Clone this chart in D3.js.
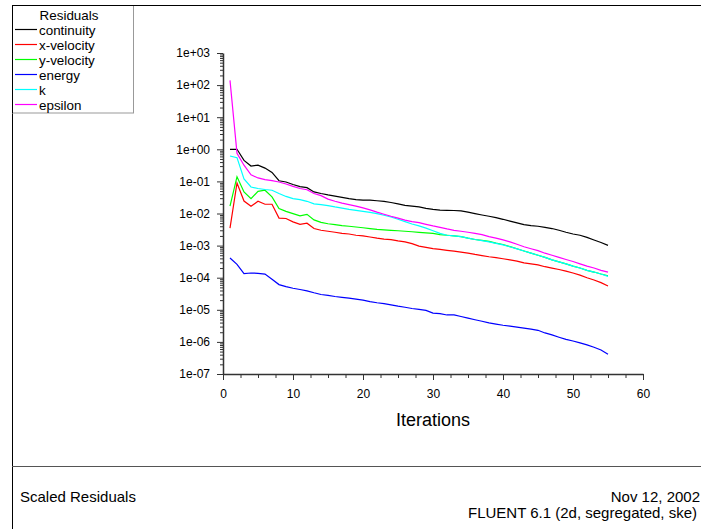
<!DOCTYPE html>
<html>
<head>
  <meta charset="utf-8">
  <title>Scaled Residuals</title>
  <script src="https://d3js.org/d3.v7.min.js"></script>
  <style>
    body, html {
      margin: 0;
      padding: 0;
      background: #fff;
      overflow: hidden;
    }
    svg {
      display: block;
      font-family: "Liberation Sans", Arial, sans-serif;
    }
  </style>
</head>
<body>
  <svg id="chart" width="701" height="529"></svg>

  <script>
    // iteration numbers (x values)
    var iterations = d3.range(1, 56);

    // residual values, one per iteration
    var continuity = [1.0, 1.0, 0.45, 0.30, 0.32, 0.26, 0.19, 0.105, 0.096, 0.08,
      0.069, 0.064, 0.047, 0.042, 0.038, 0.035, 0.032, 0.029, 0.027, 0.026,
      0.026, 0.025, 0.024, 0.022, 0.020, 0.018, 0.017, 0.016, 0.0145, 0.0135,
      0.0128, 0.0126, 0.0124, 0.012, 0.011, 0.0099, 0.009, 0.0082, 0.0074, 0.0066,
      0.0058, 0.0051, 0.0045, 0.0042, 0.0040, 0.0037, 0.0034, 0.0030, 0.0026, 0.0023,
      0.0021, 0.0018, 0.0015, 0.00125, 0.00102];

    var xVelocity = [0.0035, 0.089, 0.0245, 0.0167, 0.024, 0.0194, 0.0194, 0.0072, 0.0070, 0.0055,
      0.0046, 0.005, 0.0034, 0.0030, 0.0028, 0.0026, 0.0024, 0.0023, 0.0021, 0.0020,
      0.00185, 0.0017, 0.0016, 0.00153, 0.0014, 0.0013, 0.00115, 0.00096, 0.00088, 0.00081,
      0.00076, 0.00071, 0.00067, 0.00063, 0.00058, 0.00053, 0.00049, 0.00045, 0.00042, 0.00039,
      0.00036, 0.00033, 0.00029, 0.00027, 0.00025, 0.00022, 0.0002, 0.00018, 0.00016, 0.00014,
      0.00012, 0.0001, 0.000085, 0.00007, 0.000055];

    var yVelocity = [0.017, 0.14, 0.047, 0.029, 0.049, 0.053, 0.033, 0.0142, 0.0117, 0.0099,
      0.0084, 0.0094, 0.0063, 0.0053, 0.0048, 0.0045, 0.0042, 0.0040, 0.0038, 0.0036,
      0.0034, 0.0032, 0.0031, 0.0030, 0.0029, 0.0028, 0.0027, 0.0026, 0.0025, 0.0024,
      0.0022, 0.0021, 0.0020, 0.0019, 0.0017, 0.00155, 0.00145, 0.00136, 0.0012, 0.00108,
      0.00093, 0.0008, 0.00068, 0.00058, 0.0005, 0.00043, 0.00036, 0.00031, 0.00027, 0.00023,
      0.0002, 0.00017, 0.00015, 0.00013, 0.000115];

    var energy = [4.1e-4, 2.6e-4, 1.34e-4, 1.4e-4, 1.37e-4, 1.3e-4, 8.9e-5, 6.1e-5, 5.3e-5, 4.7e-5,
      4.3e-5, 3.9e-5, 3.4e-5, 3.0e-5, 2.8e-5, 2.6e-5, 2.45e-5, 2.3e-5, 2.15e-5, 2.0e-5,
      1.8e-5, 1.66e-5, 1.55e-5, 1.43e-5, 1.3e-5, 1.2e-5, 1.1e-5, 1.03e-5, 9.6e-6, 7.9e-6,
      7.6e-6, 6.9e-6, 6.9e-6, 6.2e-6, 5.5e-6, 4.9e-6, 4.4e-6, 3.9e-6, 3.6e-6, 3.3e-6,
      3.1e-6, 2.9e-6, 2.7e-6, 2.5e-6, 2.3e-6, 1.9e-6, 1.65e-6, 1.4e-6, 1.2e-6, 1.07e-6,
      9.3e-7, 8.1e-7, 6.8e-7, 5.6e-7, 4.1e-7];

    var kRes = [0.62, 0.55, 0.12, 0.067, 0.06, 0.056, 0.053, 0.042, 0.034, 0.029,
      0.027, 0.024, 0.020, 0.019, 0.0175, 0.016, 0.0148, 0.0135, 0.0125, 0.0117,
      0.0108, 0.0099, 0.0088, 0.0078, 0.0066, 0.0056, 0.0047, 0.0041, 0.0035, 0.0029,
      0.0024, 0.0021, 0.0020, 0.0019, 0.0017, 0.00155, 0.00143, 0.0013, 0.00118, 0.00105,
      0.00092, 0.00079, 0.00068, 0.00058, 0.0005, 0.00043, 0.00036, 0.00031, 0.00027, 0.00023,
      0.0002, 0.00017, 0.00015, 0.00013, 0.00011];

    var epsilon = [140, 0.75, 0.32, 0.16, 0.128, 0.114, 0.106, 0.096, 0.083, 0.07,
      0.06, 0.055, 0.042, 0.036, 0.028, 0.024, 0.021, 0.019, 0.017, 0.015,
      0.013, 0.011, 0.0095, 0.0082, 0.0072, 0.0062, 0.0056, 0.0052, 0.0046, 0.0041,
      0.0037, 0.0033, 0.003, 0.0028, 0.0026, 0.0024, 0.0022, 0.0019, 0.0017, 0.0015,
      0.0013, 0.0011, 0.00092, 0.0008, 0.0007, 0.00058, 0.0005, 0.00043, 0.00037, 0.00032,
      0.00027, 0.00023, 0.0002, 0.00017, 0.00015];

    var seriesNames = ["continuity", "x-velocity", "y-velocity", "energy", "k", "epsilon"];
    var seriesColors = ["#000000", "#ff0000", "#00ff00", "#0000ff", "#00ffff", "#ff00ff"];
    var seriesValues = [continuity, xVelocity, yVelocity, energy, kRes, epsilon];

    var yTickValues = [1e3, 1e2, 1e1, 1e0, 1e-1, 1e-2, 1e-3, 1e-4, 1e-5, 1e-6, 1e-7];
    var yTickLabels = ["1e+03", "1e+02", "1e+01", "1e+00", "1e-01", "1e-02", "1e-03",
      "1e-04", "1e-05", "1e-06", "1e-07"];
    var xTickValues = [0, 10, 20, 30, 40, 50, 60];

    var svg = d3.select("#chart");

    var xScale = d3.scaleLinear().domain([0, 60]).range([223, 643]);
    var yScale = d3.scaleLog().domain([1e-7, 1e3]).range([374, 53]);

    // outer frame and divider
    svg.append("line").attr("x1", 12.5).attr("x2", 12.5).attr("y1", 5).attr("y2", 529)
      .attr("stroke", "#000");
    svg.append("line").attr("x1", 12).attr("x2", 701).attr("y1", 5.5).attr("y2", 5.5)
      .attr("stroke", "#000");
    svg.append("line").attr("x1", 12).attr("x2", 701).attr("y1", 466.5).attr("y2", 466.5)
      .attr("stroke", "#555");

    // minor ticks for the log axis (2..9 in each decade)
    var minorY = [];
    yTickValues.slice(1).forEach(function(d) {
      for (var m = 2; m <= 9; m++) minorY.push(d * m);
    });

    svg.append("g")
      .attr("transform", "translate(223,0)")
      .call(d3.axisLeft(yScale).tickValues(minorY).tickSize(3).tickFormat(""))
      .call(function(g) { g.select(".domain").remove(); })
      .selectAll("line").attr("stroke", "#333");

    var yAxis = svg.append("g")
      .attr("transform", "translate(223,0)")
      .call(d3.axisLeft(yScale)
        .tickValues(yTickValues)
        .tickSize(6)
        .tickSizeOuter(0)
        .tickPadding(7)
        .tickFormat(function(d, i) { return yTickLabels[i]; }));
    yAxis.select(".domain").attr("stroke", "#333").attr("stroke-width", 1.5);
    yAxis.selectAll("line").attr("stroke", "#333");
    yAxis.selectAll("text").style("font-size", "12px").attr("fill", "#000");

    // x axis minor ticks every 2.5
    svg.append("g")
      .attr("transform", "translate(0,374)")
      .call(d3.axisBottom(xScale).tickValues(d3.range(0, 60.1, 2.5)).tickSize(4).tickFormat(""))
      .call(function(g) { g.select(".domain").remove(); })
      .selectAll("line").attr("stroke", "#333");

    var xAxis = svg.append("g")
      .attr("transform", "translate(0,374)")
      .call(d3.axisBottom(xScale)
        .tickValues(xTickValues)
        .tickSize(6)
        .tickSizeOuter(0)
        .tickPadding(9)
        .tickFormat(d3.format("d")));
    xAxis.select(".domain").attr("stroke", "#333").attr("stroke-width", 1.5);
    xAxis.selectAll("line").attr("stroke", "#333");
    xAxis.selectAll("text").style("font-size", "12px").attr("fill", "#000");

    svg.append("text")
      .attr("x", xScale(30))
      .attr("y", 426)
      .attr("text-anchor", "middle")
      .style("font-size", "18px")
      .text("Iterations");

    // residual lines
    var line = d3.line()
      .x(function(d) { return xScale(d[0]); })
      .y(function(d) { return yScale(d[1]); });

    seriesValues.forEach(function(vals, s) {
      svg.append("path")
        .datum(iterations.map(function(it, i) { return [it, vals[i]]; }))
        .attr("fill", "none")
        .attr("stroke", seriesColors[s])
        .attr("stroke-width", 1.2)
        .attr("d", line);
    });

    // legend
    var legend = svg.append("g");
    legend.append("rect")
      .attr("x", 12.5).attr("y", 5.5)
      .attr("width", 121).attr("height", 107.5)
      .attr("fill", "#fff")
      .attr("stroke", "#999");
    legend.append("line").attr("x1", 12.5).attr("x2", 12.5).attr("y1", 5).attr("y2", 113)
      .attr("stroke", "#000");
    legend.append("line").attr("x1", 12).attr("x2", 134).attr("y1", 5.5).attr("y2", 5.5)
      .attr("stroke", "#000");
    legend.append("text")
      .attr("x", 69).attr("y", 19.5)
      .attr("text-anchor", "middle")
      .style("font-size", "13.4px")
      .text("Residuals");

    var rows = legend.selectAll("g.row")
      .data(seriesNames)
      .enter().append("g")
      .attr("class", "row")
      .attr("transform", function(d, i) { return "translate(0," + (29.5 + i * 15) + ")"; });
    rows.append("line")
      .attr("x1", 15).attr("x2", 37)
      .attr("stroke", function(d, i) { return seriesColors[i]; })
      .attr("stroke-width", 1.2);
    rows.append("text")
      .attr("x", 39).attr("y", 5)
      .style("font-size", "13.4px")
      .text(function(d) { return d; });

    // footer texts
    svg.append("text")
      .attr("x", 20).attr("y", 502)
      .style("font-size", "15px")
      .text("Scaled Residuals");
    svg.append("text")
      .attr("x", 700).attr("y", 502)
      .attr("text-anchor", "end")
      .style("font-size", "15px")
      .text("Nov 12, 2002");
    svg.append("text")
      .attr("x", 697).attr("y", 518)
      .attr("text-anchor", "end")
      .style("font-size", "15px")
      .text("FLUENT 6.1 (2d, segregated, ske)");
  </script>
</body>
</html>
